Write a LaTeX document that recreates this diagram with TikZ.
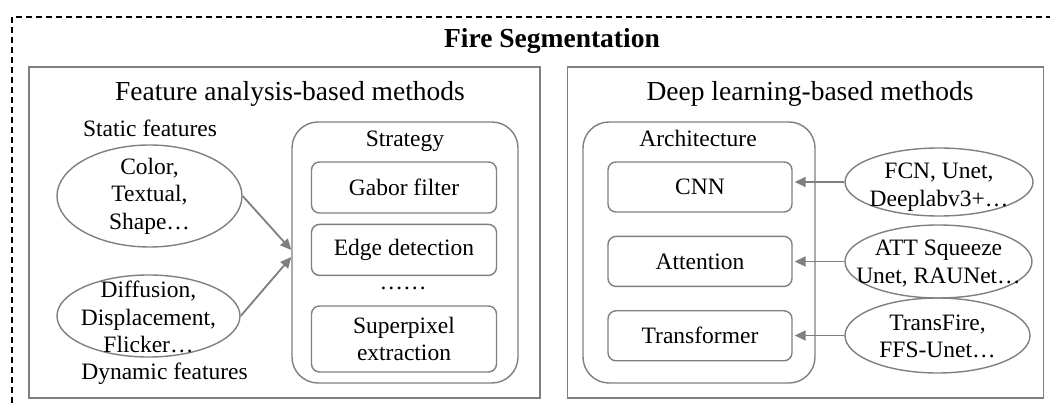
\documentclass[tikz,border=0pt]{standalone}
\usepackage{fontspec}
\setmainfont{Liberation Serif}
\usetikzlibrary{arrows.meta,positioning,shapes.geometric}
\definecolor{FrameGray}{HTML}{7F7F7F}
\newcommand{\itemfont}{\fontsize{23.5}{27.5}\selectfont}
\newcommand{\panelfont}{\fontsize{27.5}{31}\selectfont}

\begin{document}
\begin{tikzpicture}[x=1pt,y=-1pt,node distance=23pt]
    \tikzset{panel/.style={draw=FrameGray,line width=1.8pt,minimum height=331pt},
      groupbox/.style={draw=FrameGray,line width=1.4pt,rounded corners=26pt,minimum height=261pt},
      methodbox/.style={draw=FrameGray,line width=1.4pt,rounded corners=8pt,minimum width=184pt,
        minimum height=50pt,align=center,font=\itemfont},
      featell/.style={ellipse,draw=FrameGray,line width=1.4pt,inner sep=0pt},
      feattext/.style={align=center,font=\itemfont},
      headtext/.style={anchor=base,font=\panelfont},
      plaintext/.style={anchor=base,font=\itemfont},
      flowarrow/.style={draw=FrameGray,line width=1.8pt,-{Triangle[length=11pt,width=10pt]}}}
    \path[use as bounding box] (0,0) rectangle (1050,403);
    \draw[line width=1.2pt,dash pattern=on 6pt off 4pt] (12,403) -- (12,17) -- (1050,17);
    \node[anchor=base,font=\panelfont\bfseries] (top) at (552,48) {Fire Segmentation};
    % two method families
    \node[panel,minimum width=511pt] (fa) at (284.5,232.5) {};
    \node[panel,minimum width=476pt] (dl) at (805.5,232.5) {};
    \node[headtext] (fat) at (290,101) {Feature analysis-based methods};
    \node[headtext] (dlt) at (810,101) {Deep learning-based methods};
    % feature analysis side
    \node[plaintext] (sft) at (150,137) {Static features};
    \node[featell,minimum width=185pt,minimum height=102pt,
      label={[feattext]center:{Color,\\Textual,\\Shape…}}] (sf) at (149.5,196) {};
    \node[featell,minimum width=183pt,minimum height=82pt,
      label={[feattext,yshift=-1pt]center:{Diffusion,\\Displacement,\\Flicker…}}] (df) at (148.5,316) {};
    \node[plaintext] (dft) at (164.5,380) {Dynamic features};
    \node[groupbox,minimum width=226pt] (st) at (405,252.5) {};
    \node[plaintext] (stt) at (405,147) {Strategy};
    \node[methodbox,minimum width=185pt,minimum height=51pt] (gf) at (404,187.5) {Gabor filter};
    \node[methodbox,minimum width=185pt,minimum height=51pt,below=10pt of gf] (ed) {Edge detection};
    \node[plaintext] (dots) at (403,290) {……};
    \node[methodbox,minimum width=185pt,minimum height=66pt] (sp) at (404,339) {Superpixel\\extraction};
    \draw[flowarrow] (sf.east) -- ([yshift=2.5pt]st.west);
    \draw[flowarrow] (df.east) -- ([yshift=-4.5pt]st.west);
    % deep learning side
    \node[groupbox,minimum width=232pt] (ar) at (699,252.5) {};
    \node[plaintext] (art) at (698,147) {Architecture};
    \node[methodbox] (cnn) at (700,187) {CNN};
    \node[methodbox,below=of cnn] (att) {Attention};
    \node[methodbox,below=of att] (tf) {Transformer};
    \node[featell,minimum width=188pt,minimum height=68pt,
      label={[feattext,yshift=-5pt]center:{FCN, Unet,\\Deeplabv3+…}}] (m1) at (939,182) {};
    \node[featell,minimum width=187pt,minimum height=73pt,
      label={[feattext,yshift=-2pt]center:{ATT Squeeze\\Unet, RAUNet…}}] (m2) at (938.5,261.5) {};
    \node[featell,minimum width=185pt,minimum height=75pt,
      label={[feattext,yshift=-1pt]center:{TransFire,\\FFS-Unet…}}] (m3) at (937.5,335.5) {};
    \draw[flowarrow,shorten >=2pt] (m1.west) -- (m1.west -| cnn.east);
    \draw[flowarrow,shorten >=2pt] (m2.west) -- (m2.west -| att.east);
    \draw[flowarrow,shorten >=2pt] (m3.west) -- (m3.west -| tf.east);
  \end{tikzpicture}
\end{document}
